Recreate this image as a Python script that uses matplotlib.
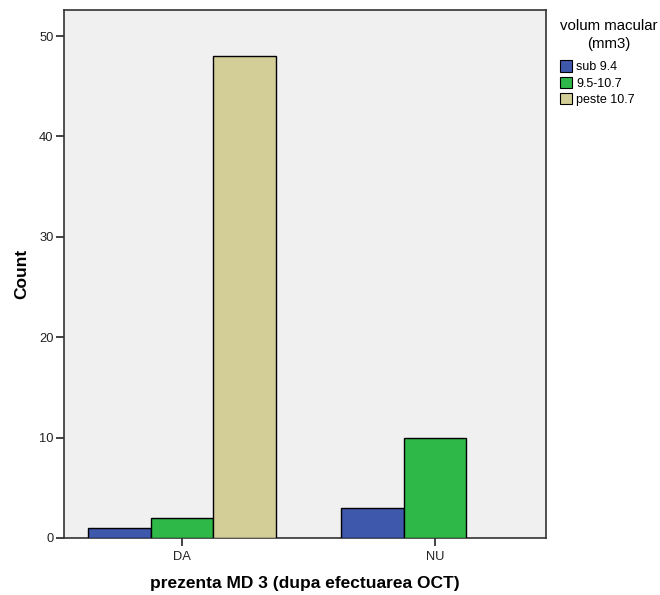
import matplotlib
matplotlib.use("Agg")
import matplotlib.pyplot as plt
from matplotlib.patches import Patch
import numpy as np

plt.rcParams['font.family'] = ['Liberation Sans', 'DejaVu Sans']

groups = ["DA", "NU"]
series = ["sub 9.4", "9.5-10.7", "peste 10.7"]
counts = {
    "sub 9.4": [1, 3],
    "9.5-10.7": [2, 10],
    "peste 10.7": [48, 0],
}
colors = {"sub 9.4": "#3e58ac", "9.5-10.7": "#2eb848", "peste 10.7": "#d3ce97"}
yticks = [0, 10, 20, 30, 40, 50]

fig = plt.figure(figsize=(6.6, 5.95), dpi=100)
ax = fig.add_axes([0.097, 0.0958, 0.730, 0.8874])
ax.set_facecolor("#f0f0f0")

x = np.arange(len(groups))
width = 0.247
for i, s in enumerate(series):
    vals = counts[s]
    offs = (i - 1) * width
    for xi, v in zip(x, vals):
        if v > 0:
            ax.bar(xi + offs, v, width=width, color=colors[s],
                   edgecolor="black", linewidth=1.0, zorder=3)

ax.set_xlim(-0.466, 1.439)
ax.set_ylim(0, 52.6)
ax.set_xticks(x)
ax.set_xticklabels(groups)
ax.set_yticks(yticks)
ax.tick_params(axis="both", direction="out", length=6, width=1.2,
               labelsize=9.3, colors="#222222", pad=1.5)
ax.tick_params(axis="x", pad=3.5)
for sp in ax.spines.values():
    sp.set_color("#333333")
    sp.set_linewidth(1.2)

ax.set_xlabel("prezenta MD 3 (dupa efectuarea OCT)", fontsize=12.5,
              fontweight="bold", labelpad=9)
ax.set_ylabel("Count", fontsize=12.5, fontweight="bold", labelpad=7)

handles = [Patch(facecolor=colors[s], edgecolor="black", linewidth=0.8)
           for s in series]
leg = fig.legend(handles, series, loc="upper left",
                 bbox_to_anchor=(0.835, 0.982), frameon=False,
                 title="volum macular\n(mm3)", fontsize=9,
                 title_fontsize=10.8, handlelength=1.0, handleheight=1.0,
                 handletextpad=0.3, labelspacing=0.28, borderpad=0.2)
leg._legend_box.align = "left"
leg._legend_box.sep = 7
leg.get_title().set_multialignment("center")
leg.get_title().set_linespacing(1.3)

fig.savefig("out.png", dpi=100)
